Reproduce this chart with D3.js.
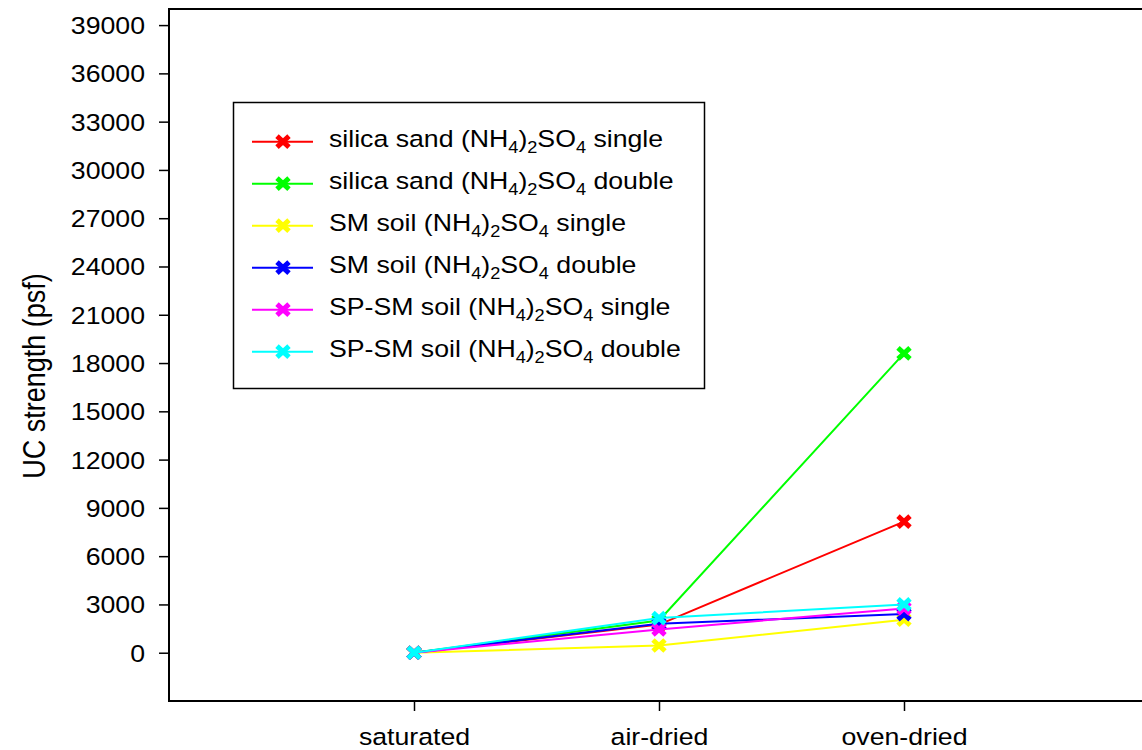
<!DOCTYPE html>
<html>
<head>
<meta charset="utf-8">
<script src="https://cdn.jsdelivr.net/npm/d3@7"></script>
<style>
  html, body { margin: 0; padding: 0; background: #fff; overflow: hidden; }
  svg { display: block; font-family: "Liberation Sans", Arial, sans-serif; }
</style>
</head>
<body>
<svg id="chart" width="1142" height="750"></svg>
<script>
// ---- data ----
const categories = ["saturated", "air-dried", "oven-dried"];
const seriesSoil = ["silica sand", "silica sand", "SM soil", "SM soil", "SP-SM soil", "SP-SM soil"];
const seriesDose = ["single", "double", "single", "double", "single", "double"];
const seriesColors = ["#ff0000", "#00ff00", "#ffff00", "#0000ff", "#ff00ff", "#00ffff"];
const silicaSingle = [0, 1750, 8150];
const silicaDouble = [0, 2000, 18600];
const smSingle     = [0, 450, 2050];
const smDouble     = [0, 1800, 2400];
const spsmSingle   = [0, 1450, 2750];
const spsmDouble   = [0, 2150, 3000];
const seriesValues = [silicaSingle, silicaDouble, smSingle, smDouble, spsmSingle, spsmDouble];
const yTicks = [0, 3000, 6000, 9000, 12000, 15000, 18000, 21000, 24000, 27000, 30000, 33000, 36000, 39000];
const yTitle = "UC strength (psf)";

// ---- layout ----
const svg = d3.select("#chart");
const mLeft = 169, mRight = 1149, mTop = 9, mBottom = 701;
const SX = 1.135;         // horizontal text stretch of the original
const FS = 23.5;

const x = d3.scaleLinear().domain([0, 4]).range([mLeft, mRight]);
const y = d3.scaleLinear().domain([-3000, 40000]).range([mBottom, mTop]);

// frame (left, top, bottom)
const frame = svg.append("g").attr("stroke", "#000").attr("stroke-width", 2).attr("fill", "none");
frame.append("path").attr("d", `M${mRight},${mTop} L${mLeft},${mTop} L${mLeft},${mBottom} L${mRight},${mBottom}`);

// y axis
const yAxis = svg.append("g")
  .attr("transform", `translate(${mLeft},0)`)
  .call(d3.axisLeft(y).tickValues(yTicks).tickSize(10).tickPadding(0).tickFormat(d3.format("d")));
yAxis.select(".domain").remove();
yAxis.selectAll("line").attr("stroke", "#000").attr("stroke-width", 1.5);
yAxis.selectAll("text")
  .attr("x", null).attr("dy", null)
  .attr("transform", `translate(-24,8.4) scale(${SX},1)`)
  .attr("font-size", FS).attr("fill", "#000")
  .attr("font-family", "Liberation Sans, Arial, sans-serif");

// x axis
const xAxis = svg.append("g")
  .attr("transform", `translate(0,${mBottom})`)
  .call(d3.axisBottom(x).tickValues([1, 2, 3]).tickSize(10).tickPadding(0)
    .tickFormat(d => categories[d - 1]));
xAxis.select(".domain").remove();
xAxis.selectAll("line").attr("stroke", "#000").attr("stroke-width", 1.5);
xAxis.selectAll("text")
  .attr("y", null).attr("dy", null)
  .attr("transform", `translate(0,43.5) scale(${SX},1)`)
  .attr("font-size", FS).attr("fill", "#000")
  .attr("font-family", "Liberation Sans, Arial, sans-serif");

// y title
svg.append("text")
  .attr("transform", `translate(45,376) scale(${SX},1) rotate(-90)`)
  .attr("text-anchor", "middle")
  .attr("font-size", 27)
  .attr("fill", "#000")
  .text(yTitle);

// series
const xMark = "M-6,-5.5 L6,5.5 M-6,5.5 L6,-5.5";
const line = d3.line().x((d, i) => x(i + 1)).y(d => y(d));
seriesValues.forEach((vals, s) => {
  const g = svg.append("g");
  g.append("path")
    .attr("d", line(vals))
    .attr("fill", "none")
    .attr("stroke", seriesColors[s])
    .attr("stroke-width", 2);
  g.selectAll("path.m").data(vals).enter().append("path")
    .attr("class", "m")
    .attr("d", xMark)
    .attr("transform", (d, i) => `translate(${x(i + 1)},${y(d)})`)
    .attr("stroke", seriesColors[s])
    .attr("stroke-width", 5)
    .attr("fill", "none");
});

// legend
const lg = svg.append("g");
lg.append("rect")
  .attr("x", 233.5).attr("y", 102.5).attr("width", 471).attr("height", 286)
  .attr("fill", "#fff").attr("stroke", "#000").attr("stroke-width", 1.5);
seriesValues.forEach((vals, s) => {
  const ry = 141.7 + s * 42;
  lg.append("line")
    .attr("x1", 252).attr("x2", 313).attr("y1", ry).attr("y2", ry)
    .attr("stroke", seriesColors[s]).attr("stroke-width", 2);
  lg.append("path")
    .attr("d", xMark)
    .attr("transform", `translate(283,${ry})`)
    .attr("stroke", seriesColors[s]).attr("stroke-width", 5).attr("fill", "none");
  const t = lg.append("text")
    .attr("transform", `translate(329,${ry + 5}) scale(${SX},1)`)
    .attr("font-size", FS).attr("fill", "#000");
  t.append("tspan").text(seriesSoil[s] + " (NH");
  t.append("tspan").attr("font-size", 16).attr("dy", 6.5).text("4");
  t.append("tspan").attr("dy", -6.5).text(")");
  t.append("tspan").attr("font-size", 16).attr("dy", 6.5).text("2");
  t.append("tspan").attr("dy", -6.5).text("SO");
  t.append("tspan").attr("font-size", 16).attr("dy", 6.5).text("4");
  t.append("tspan").attr("dy", -6.5).text(" " + seriesDose[s]);
});
</script>
</body>
</html>
